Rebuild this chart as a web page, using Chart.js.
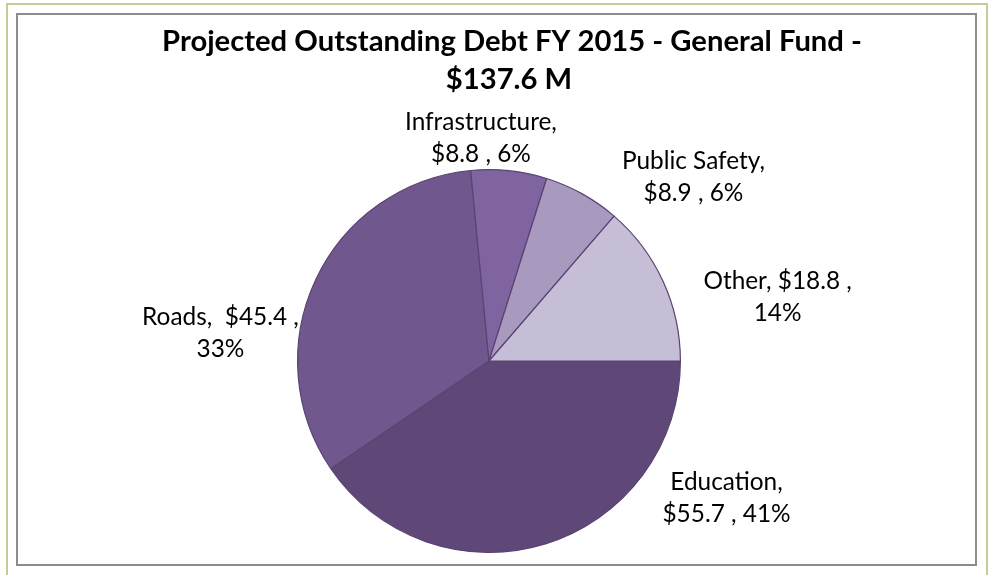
<!DOCTYPE html>
<html>
<head>
<meta charset="utf-8">
<script src="https://cdn.jsdelivr.net/npm/chart.js@4/dist/chart.umd.min.js"></script>
<style>
  html, body { margin: 0; padding: 0; background: #fff; }
  #wrap { position: relative; width: 992px; height: 575px; overflow: hidden; }
  #outer { position: absolute; left: 6px; top: 3px; width: 978px; height: 600px; border: 2px solid #c9cb94; }
  #inner { position: absolute; left: 16px; top: 13px; width: 957px; height: 549px; border: 2px solid #8c8c8c; }
  #chart { position: absolute; left: 0; top: 0; }
</style>
</head>
<body>
<div id="wrap">
  <div id="outer"></div>
  <div id="inner"></div>
  <canvas id="chart" width="992" height="575"></canvas>
</div>
<script>
// Datos del gráfico
const categories = ["Education", "Roads", "Infrastructure", "Public Safety", "Other"];
const amounts = [55.7, 45.4, 8.8, 8.9, 18.8];
const percents = [41, 33, 6, 6, 14];
const titleLines = ["Projected Outstanding Debt FY 2015 - General Fund -", "$137.6 M"];

const sliceColors = ["#5f4878", "#70588e", "#7f64a0", "#a899bf", "#c6bed6"];

// Posición de etiquetas (en radios, respecto al centro) y dónde cortar la línea
const labelLayout = [
  { dx: 1.241, dy: 0.717, split: "name" },
  { dx: -1.403, dy: -0.147, split: "value", gap: "  " },
  { dx: -0.042, dy: -1.162, split: "name" },
  { dx: 1.068, dy: -0.961, split: "name" },
  { dx: 1.508, dy: -0.332, split: "value", gap: " " }
];

function fitFont(ctx, text, weight, family, target) {
  ctx.font = `${weight} 20px ${family}`;
  const w = ctx.measureText(text).width;
  return 20 * target / w;
}

const titlePlugin = {
  id: "titleText",
  afterDraw(chart) {
    const ctx = chart.ctx;
    const fam = "Lato, Roboto, sans-serif";
    const size = fitFont(ctx, titleLines[0], "bold", fam, 700);
    ctx.save();
    ctx.font = `bold ${size}px ${fam}`;
    ctx.fillStyle = "#000";
    ctx.textAlign = "center";
    ctx.textBaseline = "middle";
    ctx.fillText(titleLines[0], 512, 42);
    ctx.fillText(titleLines[1], 509, 80);
    ctx.restore();
  }
};

const labelPlugin = {
  id: "sliceLabels",
  afterDatasetsDraw(chart) {
    const ctx = chart.ctx;
    const fam = "Lato, 'Open Sans', sans-serif";
    const size = fitFont(ctx, "Infrastructure,", "normal", fam, 152);
    const arcs = chart.getDatasetMeta(0).data;
    ctx.save();
    ctx.font = `${size}px ${fam}`;
    ctx.fillStyle = "#000";
    ctx.textAlign = "center";
    ctx.textBaseline = "middle";
    arcs.forEach((arc, i) => {
      const lay = labelLayout[i];
      const r = arc.outerRadius;
      const cx = arc.x + lay.dx * r;
      const cy = arc.y + lay.dy * r;
      let l1, l2;
      if (lay.split === "name") {
        l1 = `${categories[i]},`;
        l2 = `$${amounts[i]} , ${percents[i]}%`;
      } else {
        l1 = `${categories[i]},${lay.gap}$${amounts[i]} ,`;
        l2 = `${percents[i]}%`;
      }
      ctx.fillText(l1, cx, cy - 16);
      ctx.fillText(l2, cx, cy + 16);
    });
    ctx.restore();
  }
};

new Chart(document.getElementById("chart"), {
  type: "pie",
  data: {
    labels: categories,
    datasets: [{
      data: amounts,
      backgroundColor: sliceColors,
      borderColor: "#5a4373",
      borderWidth: 1.2,
      hoverOffset: 0
    }]
  },
  options: {
    responsive: false,
    animation: false,
    rotation: 90,
    layout: { padding: { top: 169, bottom: 22, left: 100, right: 114 } },
    plugins: {
      legend: { display: false },
      tooltip: { enabled: false },
      title: { display: false }
    }
  },
  plugins: [titlePlugin, labelPlugin]
});
</script>
</body>
</html>
